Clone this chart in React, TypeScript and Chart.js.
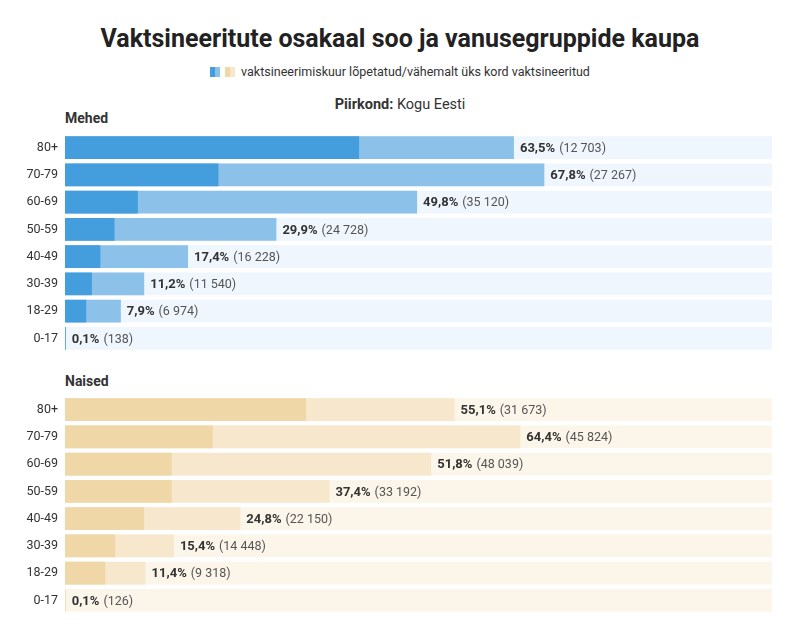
import React, { useEffect, useRef } from 'react';
import { Chart, registerables } from 'chart.js';

Chart.register(...registerables);

const ageGroups = ['80+', '70-79', '60-69', '50-59', '40-49', '30-39', '18-29', '0-17'];

// Mehed
const menAtLeastOne = [63.5, 67.8, 49.8, 29.9, 17.4, 11.2, 7.9, 0.1];
const menAtLeastOneCount = [12703, 27267, 35120, 24728, 16228, 11540, 6974, 138];
const menCompleted = [41.6, 21.7, 10.3, 7.0, 5.0, 3.8, 3.0, 0.1];

// Naised
const womenAtLeastOne = [55.1, 64.4, 51.8, 37.4, 24.8, 15.4, 11.4, 0.1];
const womenAtLeastOneCount = [31673, 45824, 48039, 33192, 22150, 14448, 9318, 126];
const womenCompleted = [34.1, 20.9, 15.1, 15.1, 11.2, 7.1, 5.7, 0.1];

const trackValues = ageGroups.map(() => 100);

const FONT = 'Roboto, "Noto Sans", sans-serif';

const formatCount = (n: number) => n.toString().replace(/\B(?=(\d{3})+(?!\d))/g, ' ');
const formatPct = (v: number) => v.toFixed(1).replace('.', ',') + '%';

interface GroupChartProps {
  completed: number[];
  atLeastOne: number[];
  counts: number[];
  colors: { dark: string; light: string; track: string };
}

const GroupChart: React.FC<GroupChartProps> = ({ completed, atLeastOne, counts, colors }) => {
  const chartRef = useRef<HTMLCanvasElement>(null);
  const chartInstance = useRef<Chart | null>(null);

  useEffect(() => {
    if (!chartRef.current) return;
    if (chartInstance.current) chartInstance.current.destroy();
    const ctx = chartRef.current.getContext('2d');
    if (!ctx) return;

    // value labels at the end of the light bar
    const valueLabels = {
      id: 'valueLabels',
      afterDatasetsDraw(chart: Chart) {
        const meta = chart.getDatasetMeta(1);
        const c = chart.ctx;
        c.save();
        c.textBaseline = 'middle';
        meta.data.forEach((el: any, i: number) => {
          const x = el.x + 6;
          const y = el.y + 1;
          const pct = formatPct(atLeastOne[i]);
          c.font = `bold 13px ${FONT}`;
          c.fillStyle = '#333333';
          c.fillText(pct, x, y);
          const w = c.measureText(pct).width;
          c.font = `12.5px ${FONT}`;
          c.fillStyle = '#555555';
          c.fillText(`(${formatCount(counts[i])})`, x + w + 4, y);
        });
        c.restore();
      },
    };

    const bar = { grouped: false, barPercentage: 0.83, categoryPercentage: 1 };

    chartInstance.current = new Chart(ctx, {
      type: 'bar',
      data: {
        labels: ageGroups,
        datasets: [
          { ...bar, data: completed, backgroundColor: colors.dark, order: 1 },
          { ...bar, data: atLeastOne, backgroundColor: colors.light, order: 2 },
          { ...bar, data: trackValues, backgroundColor: colors.track, order: 3 },
        ],
      },
      options: {
        indexAxis: 'y',
        animation: false,
        responsive: false,
        maintainAspectRatio: false,
        layout: { padding: { left: 0, right: 8, top: 0, bottom: 0 } },
        plugins: {
          legend: { display: false },
          tooltip: { enabled: false },
        },
        scales: {
          x: { display: false, min: 0, max: 100 },
          y: {
            grid: { display: false, drawTicks: false },
            border: { display: false },
            ticks: {
              color: '#333333',
              font: { family: FONT, size: 12.5 },
              padding: 7,
            },
            afterFit: (scale: any) => {
              scale.width = 65;
              scale.paddingTop = 0;
              scale.paddingBottom = 0;
            },
          },
        },
      },
      plugins: [valueLabels],
    });

    return () => {
      if (chartInstance.current) {
        chartInstance.current.destroy();
        chartInstance.current = null;
      }
    };
  }, [completed, atLeastOne, counts, colors]);

  return <canvas ref={chartRef} width={780} height={218} style={{ display: 'block' }} />;
};

const blue = { dark: '#449ddc', light: '#8cc2ea', track: '#eff6fd' };
const beige = { dark: '#f0d7a7', light: '#f7e8cd', track: '#fcf5e9' };

const App: React.FC = () => {
  useEffect(() => {
    document.body.style.margin = '0';
  }, []);

  return (
    <div style={{ width: 800, height: 641, position: 'relative', fontFamily: FONT, color: '#333', background: '#fff', overflow: 'hidden' }}>
      <div style={{ position: 'absolute', top: 24, left: 0, width: 800, textAlign: 'center', fontSize: 25, fontWeight: 700, color: '#222' }}>
        Vaktsineeritute osakaal soo ja vanusegruppide kaupa
      </div>
      <div style={{ position: 'absolute', top: 64, left: 0, width: 800, display: 'flex', justifyContent: 'center', alignItems: 'center', fontSize: 12.5, color: '#333' }}>
        <span style={{ display: 'inline-block', width: 5, height: 10, background: blue.dark }} />
        <span style={{ display: 'inline-block', width: 5, height: 10, background: blue.light, marginRight: 5 }} />
        <span style={{ display: 'inline-block', width: 5, height: 10, background: beige.dark }} />
        <span style={{ display: 'inline-block', width: 5, height: 10, background: beige.light, marginRight: 6 }} />
        <span>vaktsineerimiskuur lõpetatud/vähemalt üks kord vaktsineeritud</span>
      </div>
      <div style={{ position: 'absolute', top: 96, left: 0, width: 800, textAlign: 'center', fontSize: 14.5 }}>
        <b>Piirkond:</b> Kogu Eesti
      </div>
      <div style={{ position: 'absolute', top: 110, left: 65, fontSize: 14, fontWeight: 700 }}>Mehed</div>
      <div style={{ position: 'absolute', top: 134, left: 0 }}>
        <GroupChart completed={menCompleted} atLeastOne={menAtLeastOne} counts={menAtLeastOneCount} colors={blue} />
      </div>
      <div style={{ position: 'absolute', top: 373, left: 65, fontSize: 14, fontWeight: 700 }}>Naised</div>
      <div style={{ position: 'absolute', top: 396, left: 0 }}>
        <GroupChart completed={womenCompleted} atLeastOne={womenAtLeastOne} counts={womenAtLeastOneCount} colors={beige} />
      </div>
    </div>
  );
};

export default App;
